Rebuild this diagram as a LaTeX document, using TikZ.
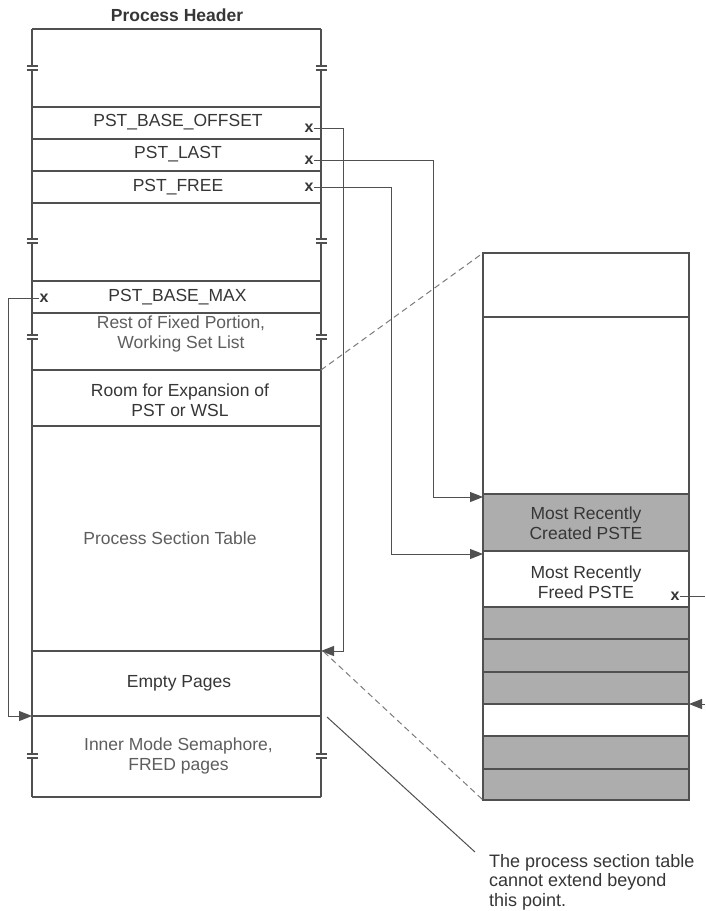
\documentclass[tikz,border=0pt]{standalone}
\usepackage{fontspec}
\setmainfont{Liberation Sans}
\usetikzlibrary{arrows.meta}
\definecolor{ln}{HTML}{505050}
\definecolor{tx}{HTML}{363636}
\definecolor{tl}{HTML}{5E5E5E}
\definecolor{cell}{HTML}{ADADAD}
\newcommand\brkmark[2]{\draw[wall] (#1-5.5,#2-2)--(#1+5.5,#2-2) (#1-5.5,#2+2)--(#1+5.5,#2+2);}
\begin{document}
\begin{tikzpicture}[x=1pt,y=-1pt,
  wall/.style={draw=ln, line width=1.1pt},
  lbl/.style={text=tx, font=\fontsize{17.5}{20}\selectfont, align=center, inner sep=0pt},
  lbllt/.style={lbl, text=tl},
  xmark/.style={text=tx, font=\bfseries\fontsize{16}{16}\selectfont, inner sep=0.3pt},
  conn/.style={draw=ln, line width=1pt},
  ptr/.style={conn, -{Triangle[length=13pt,width=10pt]}},
  dsh/.style={draw=ln!75, line width=1pt, dash pattern=on 6pt off 4pt}]
\fill[white] (0,0) rectangle (705,911);
\useasboundingbox (0,0) rectangle (705,911);

% ---------- left column: Process Header ----------
\node[lbl, font=\bfseries\fontsize{17.5}{20}\selectfont] (title) at (177,15) {Process Header};
\foreach \yy in {29,107,139,171,203,281,313,370,426,651,716,797}
  \draw[wall] (32,\yy) -- (321,\yy);
\foreach \xx in {32,321}{
  \draw[wall] (\xx,29)--(\xx,66) (\xx,70)--(\xx,239) (\xx,243)--(\xx,335)
              (\xx,339)--(\xx,754) (\xx,758)--(\xx,797);
  \brkmark{\xx}{68}
  \brkmark{\xx}{241}
  \brkmark{\xx}{337}
  \brkmark{\xx}{756}
}
\node[lbl] (ofs) at (178,122) {PST\_BASE\_OFFSET};
\node[lbl] (last) at (178,154.5) {PST\_LAST};
\node[lbl] (free) at (178,187) {PST\_FREE};
\node[lbl] (max) at (177.5,297) {PST\_BASE\_MAX};
\node[lbllt] (rest) at (181,334) {Rest of Fixed Portion,\\Working Set List};
\node[lbl] (room) at (180,400) {Room for Expansion of\\PST or WSL};
\node[lbllt] (pstab) at (170,538) {Process Section Table};
\node[lbl] (empty) at (179,683) {Empty Pages};
\node[lbllt] (inner) at (178.5,756) {Inner Mode Semaphore,\\FRED pages};

\node[xmark] (ofsx) at (309,128) {x};
\node[xmark] (lastx) at (309,160) {x};
\node[xmark] (freex) at (309,187.5) {x};
\node[xmark] (maxx) at (44,298) {x};

% ---------- right column: PST entries ----------
\fill[cell] (483,494) rectangle (689,551);
\fill[cell] (483,607) rectangle (689,704);
\fill[cell] (483,736) rectangle (689,800);
\foreach \yy in {317,494,551,607,639,672,704,736,769}
  \draw[wall] (483,\yy) -- (689,\yy);
\draw[wall] (483,253) rectangle (689,800);
\node[lbl] (created) at (586,523) {Most Recently\\Created PSTE};
\node[lbl] (freed) at (586,582) {Most Recently\\Freed PSTE};
\node[xmark] (freedx) at (675,596) {x};

% ---------- connectors ----------
\coordinate (ofsEnd) at (321,651);
\coordinate (lastEnd) at (483,497);
\coordinate (freeEnd) at (483,554);
\coordinate (maxEnd) at (32,716);
\coordinate (freedEnd) at (705,596);
\coordinate (inStart) at (705,704);
\coordinate (inEnd) at (689,704);
\draw[ptr] (ofsx.east) -- (343,128) |- (ofsEnd);
\draw[ptr] (lastx.east) -- (433,160) |- (lastEnd);
\draw[ptr] (freex.east) -- (391,187.5) |- (freeEnd);
\draw[ptr] (maxx.west) -- (8,298) |- (maxEnd);
\draw[conn] (freedx.east) -- (freedEnd);
\draw[ptr] (inStart) -- (inEnd);

% ---------- zoom guides ----------
\coordinate (zA) at (321,370);
\coordinate (zB) at (483,253);
\coordinate (zC) at (324,652);
\coordinate (zD) at (483,800);
\draw[dsh] (zA) -- (zB);
\draw[dsh] (zC) -- (zD);

% ---------- annotation ----------
\node[lbl, align=left, anchor=north west, font=\fontsize{18}{19.5}\selectfont] (note) at (489,854)
  {The process section table\\cannot extend beyond\\this point.};
\coordinate (limitPt) at (327,717);
\draw[conn] (limitPt) -- (475,852);
\end{tikzpicture}
\end{document}
